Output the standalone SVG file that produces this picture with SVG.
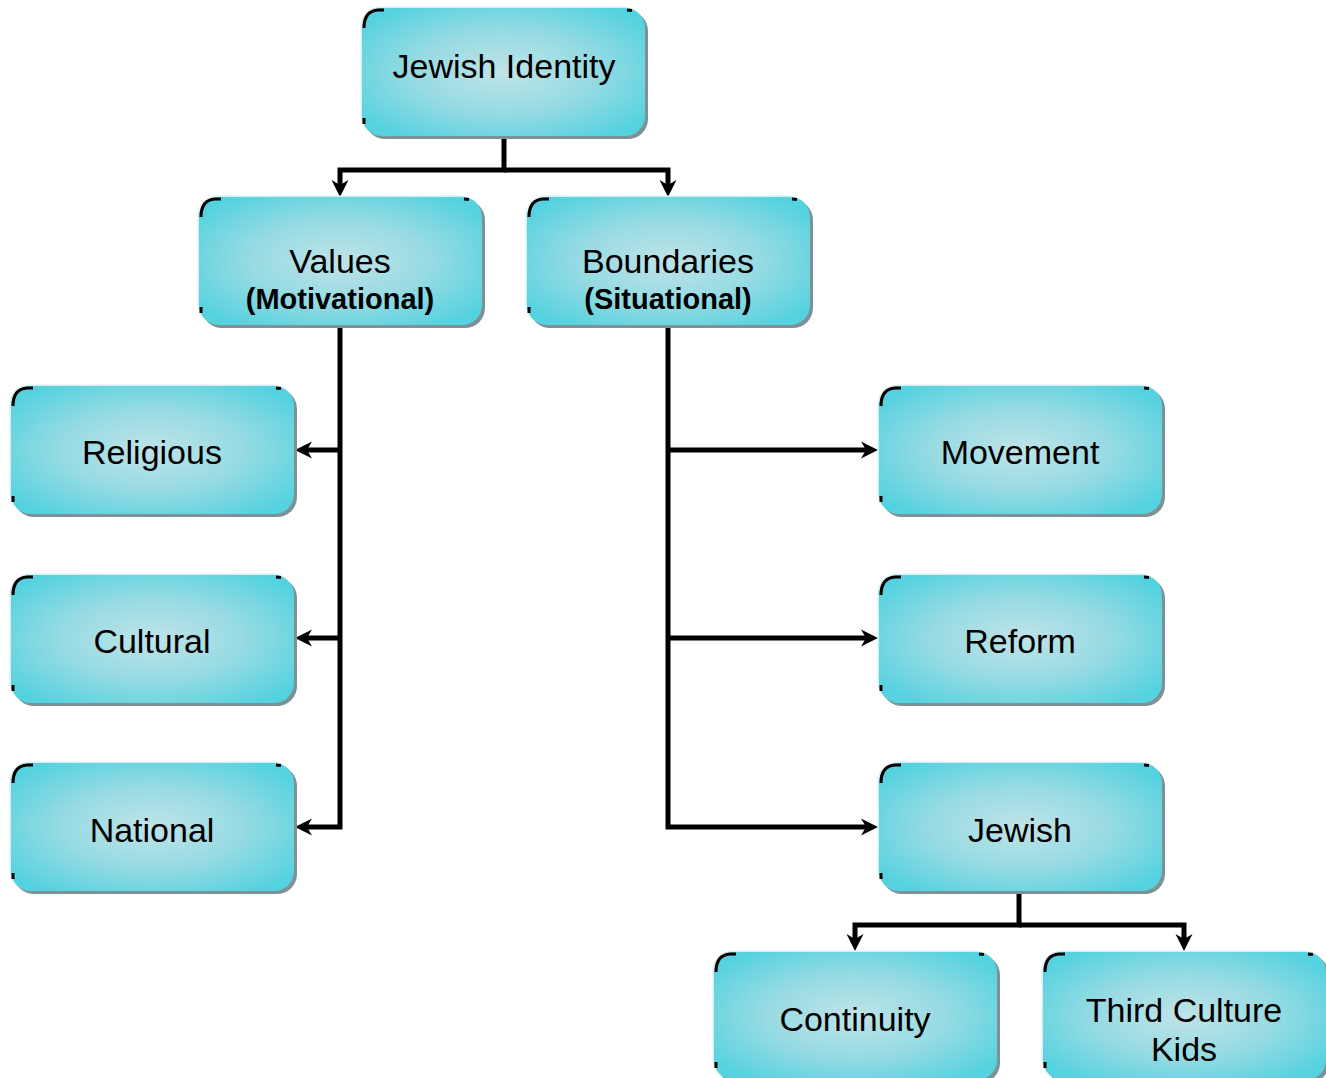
<svg xmlns="http://www.w3.org/2000/svg" xmlns:xlink="http://www.w3.org/1999/xlink" width="1326" height="1078" viewBox="0 0 1326 1078">
  <style>
    .lbl { font-family: "Liberation Sans", Arial, sans-serif; font-size: 34px; fill: #000; text-anchor: middle; }
    .sub { font-family: "Liberation Sans", Arial, sans-serif; font-size: 29px; font-weight: bold; fill: #000; text-anchor: middle; }
    .wire { fill: none; stroke: #000; stroke-width: 5; stroke-linejoin: miter; }
    .arrow { marker-end: url(#head); }
    .tick { fill: none; stroke: #000; stroke-width: 3; }
  </style>
  <defs>
    <radialGradient id="glow" cx="0.5" cy="0.5" r="0.62">
      <stop offset="0" stop-color="#bfe3e8"/>
      <stop offset="0.5" stop-color="#98dbe3"/>
      <stop offset="1" stop-color="#55d2df"/>
    </radialGradient>
    <marker id="head" markerUnits="userSpaceOnUse" markerWidth="20" markerHeight="20" viewBox="0 -10 18 20" refX="6" refY="0" orient="auto">
      <path d="M0,-8.5 L17,0 L0,8.5 L5,0 Z" fill="#000"/>
    </marker>
    <!-- shared node body: shadow, light rim, gradient face, corner marks -->
    <g id="box">
      <rect x="3" y="3" width="283" height="128" rx="20" fill="#7d9296"/>
      <rect x="-1.5" y="-1.5" width="283" height="128" rx="20" fill="#d7eff2"/>
      <rect x="0" y="0" width="283" height="128" rx="20" fill="url(#glow)"/>
      <path class="tick" d="M2,20 Q2,3 16,2 L22,2"/>
      <path class="tick" d="M265,2 L270,2.5"/>
      <path class="tick" d="M2,110 L2,116"/>
    </g>
  </defs>

  <g id="connectors">
    <path class="wire arrow" d="M504,136 V170 H340 V186"/>
    <path class="wire arrow" d="M504,170 H668 V186"/>
    <path class="wire arrow" d="M340,325 V827 H306"/>
    <path class="wire arrow" d="M340,450 H306"/>
    <path class="wire arrow" d="M340,638 H306"/>
    <path class="wire arrow" d="M668,325 V827 H867"/>
    <path class="wire arrow" d="M668,450 H867"/>
    <path class="wire arrow" d="M668,638 H867"/>
    <path class="wire arrow" d="M1019,891 V925 H855 V940"/>
    <path class="wire arrow" d="M1019,925 H1184 V940"/>
  </g>

  <g id="jewish-identity">
    <use xlink:href="#box" x="362" y="8"/>
    <text class="lbl" x="504" y="78">Jewish Identity</text>
  </g>
  <g id="values">
    <use xlink:href="#box" x="199" y="197"/>
    <text class="lbl" x="340" y="273">Values</text>
    <text class="sub" x="340" y="309">(Motivational)</text>
  </g>
  <g id="boundaries">
    <use xlink:href="#box" x="527" y="197"/>
    <text class="lbl" x="668" y="273">Boundaries</text>
    <text class="sub" x="668" y="309">(Situational)</text>
  </g>
  <g id="religious">
    <use xlink:href="#box" x="11" y="386"/>
    <text class="lbl" x="152" y="464">Religious</text>
  </g>
  <g id="cultural">
    <use xlink:href="#box" x="11" y="575"/>
    <text class="lbl" x="152" y="653">Cultural</text>
  </g>
  <g id="national">
    <use xlink:href="#box" x="11" y="763"/>
    <text class="lbl" x="152" y="842">National</text>
  </g>
  <g id="movement">
    <use xlink:href="#box" x="879" y="386"/>
    <text class="lbl" x="1020" y="464">Movement</text>
  </g>
  <g id="reform">
    <use xlink:href="#box" x="879" y="575"/>
    <text class="lbl" x="1020" y="653">Reform</text>
  </g>
  <g id="jewish">
    <use xlink:href="#box" x="879" y="763"/>
    <text class="lbl" x="1020" y="842">Jewish</text>
  </g>
  <g id="continuity">
    <use xlink:href="#box" x="714" y="952"/>
    <text class="lbl" x="855" y="1031">Continuity</text>
  </g>
  <g id="third-culture-kids">
    <use xlink:href="#box" x="1043" y="952"/>
    <text class="lbl" x="1184" y="1022">Third Culture</text>
    <text class="lbl" x="1184" y="1061">Kids</text>
  </g>
</svg>
